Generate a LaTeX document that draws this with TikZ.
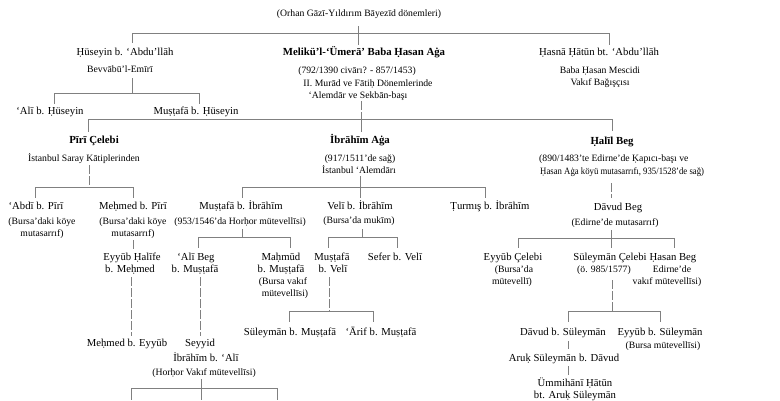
\documentclass[tikz,border=0pt]{standalone}
\usepackage{fontspec}
\usepackage{graphicx}
\setmainfont{Liberation Serif}
\begin{document}
\begin{tikzpicture}[x=1pt,y=-1pt,
  txt/.style={inner sep=0pt, anchor=base, yshift=-3.6pt, font=\fontsize{10.7}{12}\selectfont},
  nm/.style={txt},
  bd/.style={txt, font=\fontsize{10.8}{12}\selectfont\bfseries},
  sm/.style={txt, font=\fontsize{9.7}{11}\selectfont},
  ln/.style={draw=black!50, line width=0.6pt},
  vd/.style={ln, dash pattern=on 9pt off 2pt}]
\fill[white] (0,0) rectangle (780,400);
\path[use as bounding box] (0,0) rectangle (780,400);
\begin{scope}
\clip (0,0) rectangle (780,400);
% ---------- texts ----------
\node[sm] (top) at (359,13) {(Orhan Gāzī-Yıldırım Bāyezīd dönemleri)};
\node[nm] (hus) at (125,52) {Ḥüseyin b. ‘Abdu’llāh};
\node[bd] (baba) at (364,52) {Melikü’l-‘Ümerā’ Baba Ḥasan Aġa};
\node[nm] (hasna) at (599,52) {Ḥasnā Ḥātūn bt. ‘Abdu’llāh};
\node[sm] (bev) at (120,69) {Bevvābū’l-Emīrī};
\node[sm] (baba1) at (357,70) {(792/1390 civārı? - 857/1453)};
\node[sm] (baba2) at (368,83) {II. Murād ve Fātiḥ Dönemlerinde};
\node[sm] (baba3) at (358,95) {‘Alemdār ve Sekbān-başı};
\node[sm] (hasna1) at (600,70) {Baba Ḥasan Mescidi};
\node[sm] (hasna2) at (600,82) {Vakıf Bağışçısı};
\node[nm] (alih) at (50,111) {‘Alī b. Ḥüseyin};
\node[nm] (mush) at (196,111) {Muṣṭafā b. Ḥüseyin};
% row 2
\node[bd] (piri) at (94,140) {Pīrī Çelebi};
\node[sm] (piri1) at (84,158) {İstanbul Saray Kātiplerinden};
\node[bd] (ibr) at (360,140) {İbrāhīm Aġa};
\node[sm] (ibr1) at (360,158) {(917/1511’de sağ)};
\node[sm] (ibr2) at (359,170) {İstanbul ‘Alemdārı};
\node[bd] (hal) at (612,141) {Ḥalīl Beg};
\node[sm, anchor=base west] (hal1) at (539,158) {(890/1483’te Edirne’de Ḳapıcı-başı ve};
\node[sm, anchor=base west] (hal2) at (540,171) {\scalebox{0.9}[1]{Ḥasan Aġa köyü mutasarrıfı, 935/1528’de sağ)}};
% row 3
\node[nm] (abdi) at (36,206) {‘Abdī b. Pīrī};
\node[sm] (abdi1) at (42,221) {(Bursa’daki köye};
\node[sm] (abdi2) at (42,233) {mutasarrıf)};
\node[nm] (mehp) at (133,206) {Meḥmed b. Pīrī};
\node[sm] (mehp1) at (133,221) {(Bursa’daki köye};
\node[sm] (mehp2) at (133,233) {mutasarrıf)};
\node[nm] (musi) at (241,206) {Muṣṭafā b. İbrāhīm};
\node[sm] (musi1) at (240,221) {(953/1546’da Horḥor mütevellīsi)};
\node[nm] (veli) at (360,206) {Velī b. İbrāhīm};
\node[sm] (veli1) at (359,220) {(Bursa’da mukīm)};
\node[nm] (turm) at (490,206) {Ṭurmış b. İbrāhīm};
\node[nm] (davb) at (618,207) {Dāvud Beg};
\node[sm] (davb1) at (615,222) {(Edirne’de mutasarrıf)};
% row 4
\node[nm] (eyh) at (132,257) {Eyyūb Ḥalīfe};
\node[nm] (eyh1) at (130,269) {b. Meḥmed};
\node[nm] (alib) at (196,257) {‘Alī Beg};
\node[nm] (alib1) at (195,269) {b. Muṣṭafā};
\node[nm] (mah) at (281,257) {Maḥmūd};
\node[nm] (mah1) at (281,269) {b. Muṣṭafā};
\node[sm] (mah2) at (283,281) {(Bursa vakıf};
\node[sm] (mah3) at (285,293) {mütevellīsi)};
\node[nm] (mv) at (332,257) {Muṣṭafā};
\node[nm] (mv1) at (333,269) {b. Velī};
\node[nm] (sefer) at (395,257) {Sefer b. Velī};
\node[nm] (eyc) at (513,257) {Eyyūb Çelebi};
\node[sm] (eyc1) at (514,269) {(Bursa’da};
\node[sm] (eyc2) at (512,281) {mütevellī)};
\node[nm] (sulc) at (610,257) {Süleymān Çelebi};
\node[sm] (sulc1) at (604,269) {(ö. 985/1577)};
\node[nm] (hasb) at (673,257) {Ḥasan Beg};
\node[sm] (hasb1) at (672,269) {Edirne’de};
\node[sm] (hasb2) at (667,281) {vakıf mütevellīsi)};
% row 5
\node[nm] (sulm) at (290,332) {Süleymān b. Muṣṭafā};
\node[nm] (arif) at (381,332) {‘Ārif b. Muṣṭafā};
\node[nm] (davs) at (563,332) {Dāvud b. Süleymān};
\node[nm] (eys) at (660,332) {Eyyūb b. Süleymān};
\node[sm] (eys1) at (663,345) {(Bursa mütevellīsi)};
\node[nm] (aruk) at (564,358) {Aruḳ Süleymān b. Dāvud};
\node[nm] (umm) at (575,383) {Ümmihānī Ḥātūn};
\node[nm] (umm1) at (575,395) {bt. Aruḳ Süleymān};
\node[nm] (mehe) at (127,343) {Meḥmed b. Eyyūb};
\node[nm] (sey) at (200,343) {Seyyid};
\node[nm] (sey1) at (206,358) {İbrāhīm b. ‘Alī};
\node[sm] (sey2) at (204,372) {(Horḥor Vakıf mütevellīsi)};
% ---------- junction coordinates ----------
\coordinate (a0) at (358,26); \coordinate (a1) at (358,33);
\coordinate (aL) at (132,33); \coordinate (aR) at (609,33);
\coordinate (aLd) at (132,43); \coordinate (aMd) at (358,45); \coordinate (aRd) at (609,45);
\coordinate (b0) at (132,78); \coordinate (b1) at (132,93);
\coordinate (bL) at (54,93); \coordinate (bR) at (199,93);
\coordinate (bLd) at (54,104); \coordinate (bRd) at (199,104);
\coordinate (c0) at (361,101); \coordinate (c1) at (361,119);
\coordinate (cL) at (88,119); \coordinate (cR) at (612,119);
\coordinate (cLd) at (88,132); \coordinate (cMd) at (361,132); \coordinate (cRd) at (612,131);
\coordinate (d0) at (89,165); \coordinate (d1) at (89,187);
\coordinate (dL) at (35,187); \coordinate (dR) at (133,187);
\coordinate (dLd) at (35,198); \coordinate (dRd) at (133,198);
\coordinate (e0) at (360,176); \coordinate (e1) at (360,187);
\coordinate (eL) at (242,187); \coordinate (eR) at (485,187);
\coordinate (eLd) at (242,198); \coordinate (eMd) at (360,198); \coordinate (eRd) at (485,198);
\coordinate (f0) at (133,240); \coordinate (f1) at (133,249);
\coordinate (g0) at (131,277); \coordinate (g1) at (131,336);
\coordinate (h0) at (242,229); \coordinate (h1) at (242,237);
\coordinate (hL) at (198,237); \coordinate (hR) at (290,237);
\coordinate (hLd) at (198,248); \coordinate (hRd) at (290,248);
\coordinate (i0) at (200,277); \coordinate (i1) at (200,336);
\coordinate (j0) at (362,229); \coordinate (j1) at (362,237);
\coordinate (jL) at (328,237); \coordinate (jR) at (397,237);
\coordinate (jLd) at (328,248); \coordinate (jRd) at (397,248);
\coordinate (k0) at (329,277); \coordinate (k1) at (329,311);
\coordinate (kL) at (289,311); \coordinate (kR) at (373,311);
\coordinate (kLd) at (289,322); \coordinate (kRd) at (373,322);
\coordinate (l0) at (201,379); \coordinate (l1) at (201,388);
\coordinate (lL) at (131,388); \coordinate (lR) at (277,388);
\coordinate (lLd) at (131,400); \coordinate (lMd) at (201,400); \coordinate (lRd) at (277,400);
\coordinate (m0) at (611,183); \coordinate (m1) at (611,198);
\coordinate (n0) at (611,230); \coordinate (n1) at (611,238);
\coordinate (nL) at (518,238); \coordinate (nR) at (674,238);
\coordinate (nLd) at (518,248); \coordinate (nMd) at (611,248); \coordinate (nRd) at (674,248);
\coordinate (o0) at (612,280); \coordinate (o1) at (612,311);
\coordinate (oL) at (568,311); \coordinate (oR) at (660,311);
\coordinate (oLd) at (568,322); \coordinate (oRd) at (660,322);
\coordinate (p0) at (568,341); \coordinate (p1) at (568,349);
\coordinate (q0) at (568,366); \coordinate (q1) at (568,375);
% ---------- connectors ----------
\draw[ln] (a0) -- (aMd);
\draw[ln] (aL) -- (aR);
\draw[ln] (aL) -- (aLd);
\draw[ln] (aR) -- (aRd);
\draw[ln] (b0) -- (b1);
\draw[ln] (bL) -- (bR);
\draw[ln] (bL) -- (bLd);
\draw[ln] (bR) -- (bRd);
\draw[vd] (c0) -- (c1);
\draw[ln] (cL) -- (cR);
\draw[ln] (cL) -- (cLd);
\draw[ln] (c1) -- (cMd);
\draw[ln] (cR) -- (cRd);
\draw[vd] (d0) -- (d1);
\draw[ln] (dL) -- (dR);
\draw[ln] (dL) -- (dLd);
\draw[ln] (dR) -- (dRd);
\draw[ln] (e0) -- (eMd);
\draw[ln] (eL) -- (eR);
\draw[ln] (eL) -- (eLd);
\draw[ln] (eR) -- (eRd);
\draw[ln] (f0) -- (f1);
\draw[vd] (g0) -- (g1);
\draw[ln] (h0) -- (h1);
\draw[ln] (hL) -- (hR);
\draw[ln] (hL) -- (hLd);
\draw[ln] (hR) -- (hRd);
\draw[vd] (i0) -- (i1);
\draw[ln] (j0) -- (j1);
\draw[ln] (jL) -- (jR);
\draw[ln] (jL) -- (jLd);
\draw[ln] (jR) -- (jRd);
\draw[vd] (k0) -- (k1);
\draw[ln] (kL) -- (kR);
\draw[ln] (kL) -- (kLd);
\draw[ln] (kR) -- (kRd);
\draw[ln] (l0) -- (lMd);
\draw[ln] (lL) -- (lR);
\draw[ln] (lL) -- (lLd);
\draw[ln] (lR) -- (lRd);
\draw[vd] (m0) -- (m1);
\draw[ln] (n0) -- (nMd);
\draw[ln] (nL) -- (nR);
\draw[ln] (nL) -- (nLd);
\draw[ln] (nR) -- (nRd);
\draw[vd] (o0) -- (o1);
\draw[ln] (oL) -- (oR);
\draw[ln] (oL) -- (oLd);
\draw[ln] (oR) -- (oRd);
\draw[ln] (p0) -- (p1);
\draw[ln] (q0) -- (q1);
\end{scope}
\end{tikzpicture}
\end{document}
